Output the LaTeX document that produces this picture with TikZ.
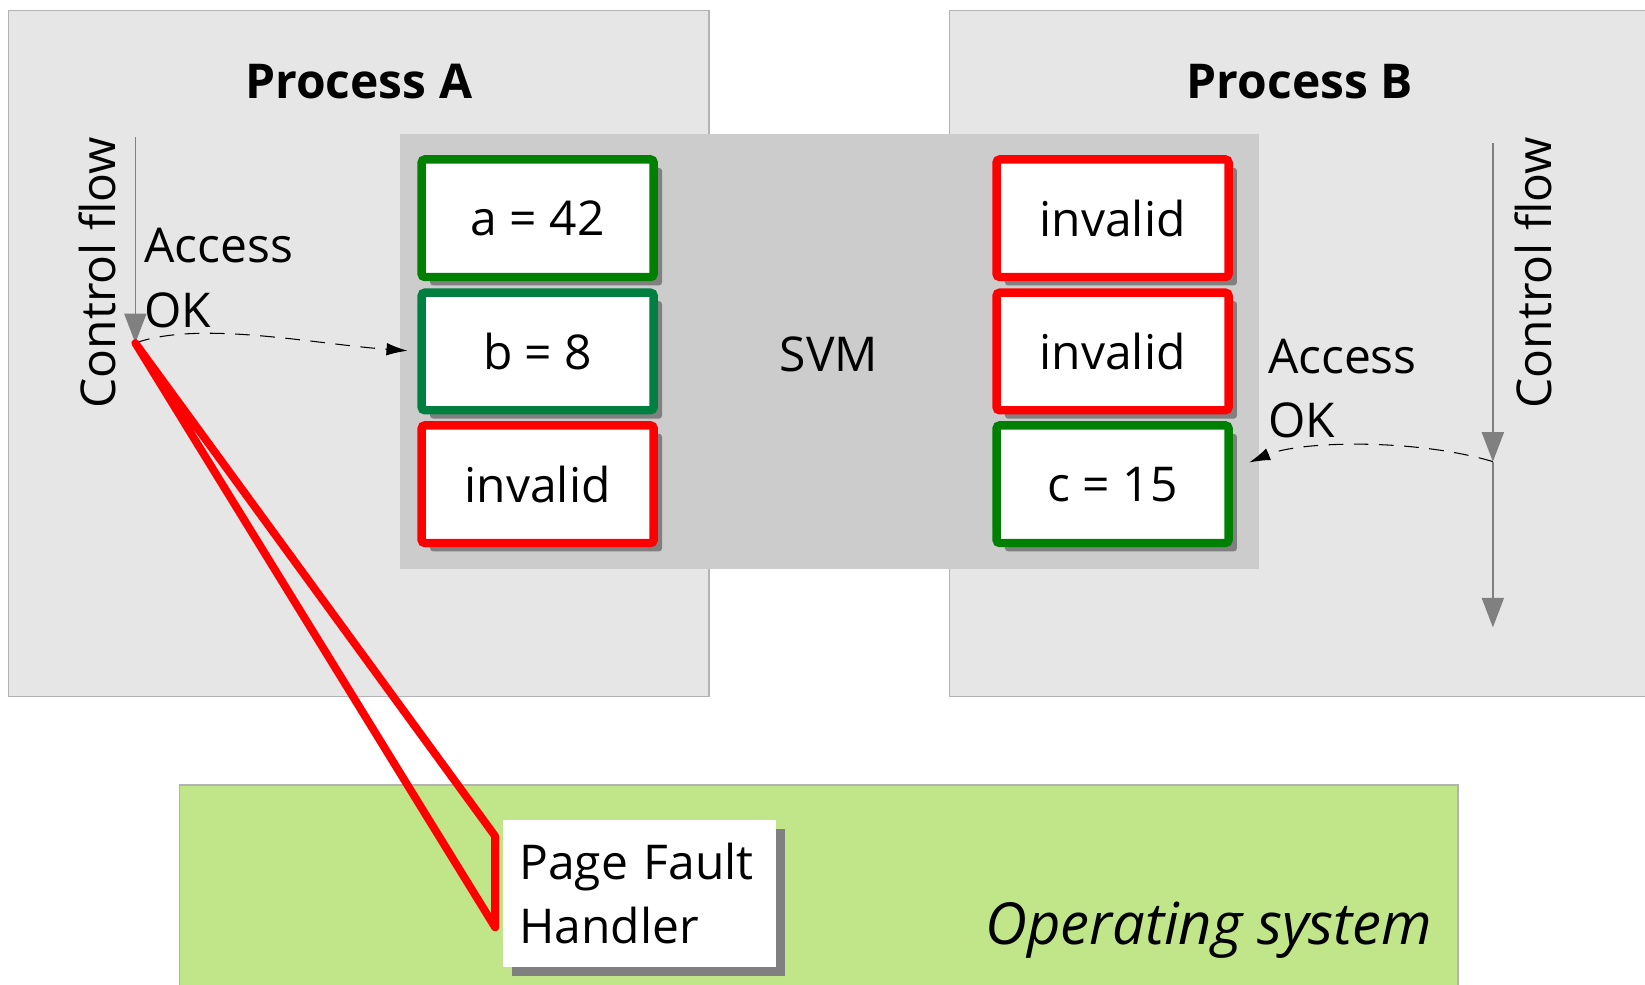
\documentclass[tikz,border=0pt]{standalone}
\usepackage{fontspec}
\setmainfont{Open Sans}
\usetikzlibrary{arrows.meta,shadows}

\definecolor{grisproc}{RGB}{230,230,230}
\definecolor{grissvm}{RGB}{204,204,204}
\definecolor{bordegris}{RGB}{179,179,179}
\definecolor{verde}{RGB}{0,128,0}
\definecolor{verdeb}{RGB}{0,128,64}
\definecolor{verdeso}{RGB}{192,230,137}

\begin{document}
\begin{tikzpicture}[x=0.01cm,y=-0.01cm,
    every node/.style={font=\fontsize{13}{17.4}\selectfont},
    celda/.style={draw, line width=0.08cm, rounded corners=0.03cm, fill=white,
        minimum width=2.21cm, minimum height=1.12cm, inner sep=0pt,
        drop shadow={shadow xshift=0.08cm, shadow yshift=-0.08cm, fill=black!50, opacity=1}},
    valida/.style={celda, draw=verde},
    invalida/.style={celda, draw=red},
    flujo/.style={draw=black!50, line width=0.015cm, -{Triangle[width=0.21cm,length=0.28cm]}},
    acceso/.style={dashed, dash pattern=on 0.14cm off 0.1cm, line width=0.01cm, -{Latex[length=0.2cm,width=0.12cm]}}] %Memoria virtual compartida entre dos procesos
    \useasboundingbox (0,0) rectangle (1568,938);
    \clip (0,0) rectangle (1568,938);

    \filldraw[fill=grisproc, draw=bordegris, line width=0.015cm] (8,10) rectangle (676,664);
    \filldraw[fill=grisproc, draw=bordegris, line width=0.015cm] (905,10) rectangle (1700,664);
    \filldraw[fill=verdeso, draw=bordegris, line width=0.015cm] (171,748) rectangle (1390,1050);
    \fill[grissvm] (381,128) rectangle (1200,542);

    \node[font=\fontsize{13}{16.3}\selectfont\bfseries] (procA) at (342,78) {Process A};
    \node[font=\fontsize{13}{16.3}\selectfont\bfseries] (procB) at (1239,78) {Process B};
    \node (svm) at (790,338) {SVM};

    \node[valida] (a) at (512.5,208) {a = 42};
    \node[celda, draw=verdeb] (b) at (512.5,335) {b = 8};
    \node[invalida] (invA) at (512.5,461.5) {invalid};

    \node[invalida] (invB) at (1060.5,208) {invalid};
    \node[invalida] (invC) at (1060.5,335) {invalid};
    \node[valida] (c) at (1060.5,461.5) {c = 15};

    \coordinate (iniA) at (129,131);
    \coordinate (finA) at (129,327);
    \coordinate (iniB) at (1423,136);
    \coordinate (medB) at (1423,440);
    \coordinate (finB) at (1423,598);

    \draw[flujo] (iniA) -- (finA);
    \draw[flujo] (iniB) -- (medB);
    \draw[flujo] (medB) -- (finB);

    \node[rotate=90] (flujoA) at (93,260) {Control flow};
    \node[rotate=90] (flujoB) at (1462,260) {Control flow};

    \node[anchor=west, align=left, inner sep=0pt] (accA) at (137,265) {Access\\OK};
    \node[anchor=west, align=left, inner sep=0pt] (accB) at (1208,370) {Access\\OK};

    \draw[acceso, shorten >=0.095cm] (finA) .. controls (190,305) and (300,328) .. (b.west);
    \draw[acceso, shorten >=0.17cm] (medB) .. controls (1350,418) and (1240,420) .. (c.7);

    \node[fill=white, align=left, text width=2.3cm, inner xsep=0.15cm,
        minimum height=1.40cm,
        drop shadow={shadow xshift=0.08cm, shadow yshift=-0.08cm, fill=black!50, opacity=1}]
        (pfh) at (610,852) {Page Fault\\Handler};

    \coordinate (P) at (472,797);
    \coordinate (Q) at (472,884);
    \draw[red, line width=0.075cm, line join=round] (finA) -- (P) -- (Q) -- cycle;

    \node[anchor=base east, inner sep=0pt, font=\fontsize{15.7}{19}\selectfont\itshape] (so) at (1366,900) {Operating system};
\end{tikzpicture}
\end{document}
